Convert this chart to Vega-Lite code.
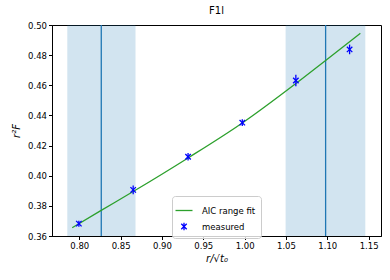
{
  "$schema": "https://vega.github.io/schema/vega-lite/v6.json",
  "width": 329,
  "height": 211,
  "autosize": "none",
  "padding": {"left": 52, "top": 25, "right": 9, "bottom": 44},
  "background": "white",
  "title": {"text": "F1l", "font": "DejaVu Sans", "fontSize": 10, "fontWeight": "normal", "color": "black", "offset": 5},
  "config": {
    "view": {"stroke": "black", "strokeWidth": 1},
    "axis": {
      "grid": false,
      "domainColor": "black",
      "tickColor": "black",
      "tickSize": 3.5,
      "labelFont": "DejaVu Sans",
      "labelFontSize": 8.5,
      "labelColor": "black",
      "labelOverlap": false,
      "titleFont": "DejaVu Sans",
      "titleFontSize": 10,
      "titleFontWeight": "normal",
      "titleFontStyle": "italic",
      "titleColor": "black"
    },
    "axisY": {"values": [0.36, 0.38, 0.4, 0.42, 0.44, 0.46, 0.48, 0.5], "format": ".2f", "title": "r²F", "titlePadding": 6},
    "axisX": {"values": [0.8, 0.85, 0.9, 0.95, 1.0, 1.05, 1.1, 1.15], "format": ".2f", "title": "r/√t₀", "titlePadding": 3}
  },
  "datasets": {
    "regions": [{"x0": 0.7855, "x1": 0.868}, {"x0": 1.0496, "x1": 1.146}],
    "vlines": [{"x": 0.8266}, {"x": 1.098}],
    "fit": [
      {"x": 0.7915, "y": 0.3655, "series": "AIC range fit"},
      {"x": 0.825, "y": 0.3765, "series": "AIC range fit"},
      {"x": 0.8652, "y": 0.3895, "series": "AIC range fit"},
      {"x": 0.9316, "y": 0.4118, "series": "AIC range fit"},
      {"x": 0.9972, "y": 0.435, "series": "AIC range fit"},
      {"x": 1.062, "y": 0.4612, "series": "AIC range fit"},
      {"x": 1.098, "y": 0.4765, "series": "AIC range fit"},
      {"x": 1.14, "y": 0.4945, "series": "AIC range fit"}
    ],
    "meas": [
      {"x": 0.7995, "y": 0.3682, "e": 0.002, "series": "measured"},
      {"x": 0.8652, "y": 0.3906, "e": 0.0029, "series": "measured"},
      {"x": 0.9316, "y": 0.4126, "e": 0.0025, "series": "measured"},
      {"x": 0.9972, "y": 0.4352, "e": 0.0022, "series": "measured"},
      {"x": 1.062, "y": 0.4632, "e": 0.0038, "series": "measured"},
      {"x": 1.127, "y": 0.4838, "e": 0.0032, "series": "measured"}
    ]
  },
  "layer": [
    {
      "data": {"name": "regions"},
      "mark": {"type": "rect", "color": "#1f77b4", "opacity": 0.2},
      "encoding": {
        "x": {"field": "x0", "type": "quantitative", "scale": {"domain": [0.767, 1.165], "nice": false, "zero": false}, "title": "r/√t₀"},
        "x2": {"field": "x1"}
      }
    },
    {
      "data": {"name": "vlines"},
      "mark": {"type": "rule", "color": "#1f77b4", "strokeWidth": 1.3},
      "encoding": {"x": {"field": "x", "type": "quantitative", "title": "r/√t₀"}}
    },
    {
      "data": {"name": "fit"},
      "mark": {"type": "line", "strokeWidth": 1.3, "interpolate": "monotone"},
      "encoding": {
        "x": {"field": "x", "type": "quantitative", "title": "r/√t₀"},
        "y": {"field": "y", "type": "quantitative", "scale": {"domain": [0.36, 0.5], "nice": false, "zero": false}, "title": "r²F"},
        "color": {
          "field": "series", "type": "nominal",
          "scale": {"domain": ["AIC range fit", "measured"], "range": ["#2ca02c", "#0000ff"]},
          "legend": {
            "orient": "none", "legendX": 120, "legendY": 171, "title": null,
            "strokeColor": "#cccccc", "fillColor": "rgba(255,255,255,0.8)", "cornerRadius": 3, "padding": 5,
            "labelFont": "DejaVu Sans", "labelFontSize": 8.5, "labelColor": "black",
            "symbolSize": 100, "rowPadding": 2, "labelOffset": 6,
            "encode": {"symbols": {"update": {
              "shape": {"signal": "datum.value === 'measured' ? 'M-1,-1L1,1M-1,1L1,-1M0,-1.4L0,1.4' : 'stroke'"},
              "size": {"signal": "datum.value === 'measured' ? 30 : 289"},
              "x": {"value": 7},
              "stroke": {"signal": "scale('color', datum.value)"},
              "strokeWidth": {"value": 1.3},
              "fill": {"value": "transparent"},
              "opacity": {"value": 1}
            }}}
          }
        }
      }
    },
    {
      "data": {"name": "meas"},
      "transform": [{"calculate": "datum.y - datum.e", "as": "ylo"}, {"calculate": "datum.y + datum.e", "as": "yhi"}],
      "mark": {"type": "rule", "color": "#0000ff", "strokeWidth": 1.3},
      "encoding": {
        "x": {"field": "x", "type": "quantitative", "title": "r/√t₀"},
        "y": {"field": "ylo", "type": "quantitative", "title": "r²F"},
        "y2": {"field": "yhi"}
      }
    },
    {
      "data": {"name": "meas"},
      "mark": {"type": "point", "shape": "M-1,-1L1,1M-1,1L1,-1", "filled": false, "size": 30, "strokeWidth": 1.3, "opacity": 1},
      "encoding": {
        "x": {"field": "x", "type": "quantitative", "title": "r/√t₀"},
        "y": {"field": "y", "type": "quantitative", "title": "r²F"},
        "color": {"field": "series", "type": "nominal"}
      }
    }
  ]
}
